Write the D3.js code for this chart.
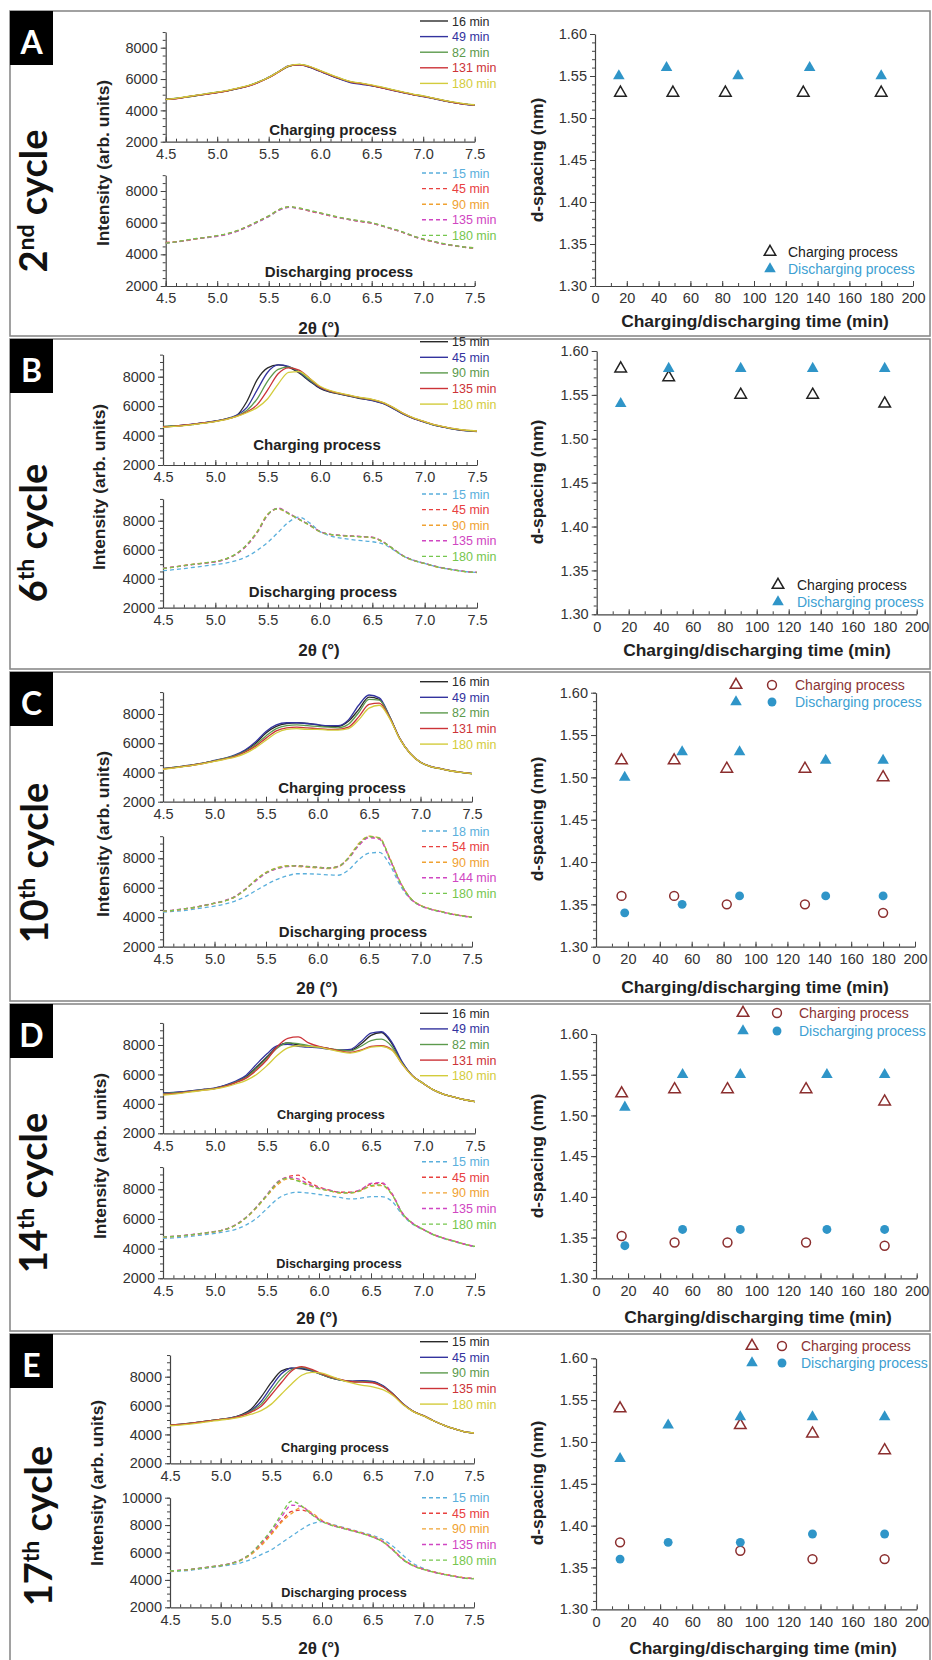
<!DOCTYPE html>
<html><head><meta charset="utf-8">
<script src="https://cdn.jsdelivr.net/npm/d3@7"></script>
<style>
body{margin:0;background:#fff}
svg{display:block}
text{font-family:"Liberation Sans",Arial,sans-serif}
</style>
</head><body>
<svg id="c" width="932" height="1660"></svg>
<script>
// ---------------- DATA ----------------
const twoTheta = [4.5,4.6,4.7,4.8,4.9,5.0,5.1,5.2,5.3,5.4,5.5,5.6,5.7,5.8,5.9,6.0,6.1,6.2,6.3,6.4,6.5,6.6,6.7,6.8,6.9,7.0,7.1,7.2,7.3,7.4,7.5];

const panelLetters = ["A","B","C","D","E"];
const cycleNums = ["2","6","10","14","17"];
const cycleSups = ["nd","th","th","th","th"];

const chgTimes = [[16,49,82,131,180],[15,45,90,135,180],[16,49,82,131,180],[16,49,82,131,180],[15,45,90,135,180]];
const dchTimes = [[15,45,90,135,180],[15,45,90,135,180],[18,54,90,144,180],[15,45,90,135,180],[15,45,90,135,180]];

// XRD intensities (arb. units) at twoTheta, charging (solid) and discharging (dashed)
const A_charge = [
 [4700,4760,4850,4950,5040,5140,5250,5400,5560,5800,6100,6480,6830,6920,6760,6500,6240,6000,5800,5700,5580,5450,5300,5150,5010,4900,4760,4620,4500,4400,4340],
 [4680,4750,4860,4960,5050,5150,5260,5390,5550,5790,6120,6500,6850,6900,6740,6480,6220,5980,5760,5660,5560,5430,5280,5140,5000,4880,4750,4610,4490,4390,4330],
 [4720,4770,4840,4940,5060,5160,5240,5410,5570,5820,6090,6470,6820,6930,6780,6520,6260,6020,5820,5720,5600,5460,5310,5160,5020,4910,4770,4630,4510,4410,4350],
 [4700,4740,4850,4960,5040,5130,5250,5400,5540,5780,6080,6460,6840,6910,6770,6510,6250,6010,5810,5710,5590,5440,5290,5150,5010,4900,4760,4620,4500,4400,4340],
 [4690,4760,4870,4970,5070,5170,5270,5420,5580,5810,6110,6490,6860,6940,6800,6540,6280,6040,5840,5740,5620,5480,5330,5180,5040,4920,4780,4640,4520,4420,4360]];
const A_discharge = [
 [4700,4780,4880,4980,5060,5150,5280,5480,5750,6050,6380,6780,6980,6900,6750,6600,6450,6300,6180,6080,5980,5800,5600,5400,5150,4950,4800,4650,4550,4450,4400],
 [4750,4800,4870,4990,5080,5170,5300,5500,5780,6100,6420,6820,7000,6880,6720,6580,6430,6290,6170,6060,5960,5790,5590,5390,5140,4940,4790,4640,4540,4440,4390],
 [4720,4790,4890,4970,5070,5160,5290,5490,5760,6070,6400,6800,6990,6910,6760,6610,6460,6310,6190,6090,5990,5810,5610,5410,5160,4960,4810,4660,4560,4460,4410],
 [4730,4770,4880,4990,5050,5140,5270,5470,5740,6060,6390,6790,6970,6890,6740,6590,6440,6290,6170,6070,5970,5790,5600,5400,5150,4950,4800,4650,4550,4450,4400],
 [4710,4790,4900,5000,5080,5180,5310,5510,5790,6110,6430,6830,7010,6920,6770,6620,6470,6320,6200,6100,6000,5820,5620,5420,5170,4970,4820,4670,4560,4460,4410]];

const B_charge = [
 [4600,4640,4700,4780,4870,4980,5120,5350,6300,7800,8600,8800,8650,8250,7700,7200,6950,6800,6650,6500,6400,6200,5850,5450,5150,4920,4700,4550,4420,4330,4280],
 [4580,4650,4710,4790,4880,4990,5140,5380,5900,7100,8300,8800,8700,8300,7750,7250,6980,6820,6670,6520,6380,6180,5830,5440,5140,4910,4690,4540,4410,4320,4270],
 [4620,4660,4690,4770,4860,4970,5110,5320,5700,6500,7700,8500,8650,8350,7800,7300,7000,6830,6680,6540,6420,6220,5880,5470,5160,4930,4710,4560,4430,4340,4290],
 [4600,4630,4700,4780,4870,4960,5100,5300,5600,6100,7100,8200,8600,8450,7900,7300,7020,6850,6700,6560,6440,6240,5900,5490,5170,4940,4720,4570,4440,4350,4300],
 [4550,4620,4680,4760,4850,4950,5080,5280,5550,5900,6500,7500,8300,8350,7900,7350,7050,6870,6720,6580,6460,6260,5920,5500,5180,4950,4730,4580,4450,4360,4310]];
const B_discharge = [
 [4550,4620,4700,4790,4880,4980,5080,5250,5520,5950,6500,7200,7900,8250,7850,7250,6950,6800,6700,6620,6550,6400,6000,5550,5250,5050,4850,4700,4580,4480,4430],
 [4720,4800,4900,5000,5080,5170,5350,5700,6300,7200,8400,8850,8500,8100,7700,7250,7050,6980,6940,6900,6850,6550,6050,5550,5250,5050,4850,4700,4580,4480,4430],
 [4700,4790,4910,5010,5090,5180,5360,5720,6330,7250,8450,8800,8480,8080,7680,7230,7040,6970,6930,6890,6830,6530,6040,5540,5240,5040,4840,4690,4570,4470,4420],
 [4740,4810,4890,4990,5070,5160,5340,5690,6280,7180,8380,8870,8520,8110,7710,7260,7060,6990,6950,6910,6860,6560,6060,5560,5260,5060,4860,4710,4590,4490,4440],
 [4710,4800,4900,5000,5090,5190,5370,5730,6350,7230,8420,8830,8490,8090,7690,7240,7050,6970,6930,6890,6840,6540,6050,5550,5250,5050,4850,4700,4580,4480,4430]];

const C_charge = [
 [4250,4330,4420,4520,4640,4800,4950,5150,5500,6000,6700,7150,7350,7400,7350,7250,7150,7150,7500,8300,9150,9000,7800,6300,5300,4700,4400,4250,4100,4000,3920],
 [4280,4350,4440,4540,4660,4820,4980,5200,5550,6100,6800,7250,7400,7400,7350,7280,7200,7200,7600,8600,9300,9100,7850,6320,5310,4710,4410,4260,4110,4010,3930],
 [4260,4340,4430,4530,4650,4800,4960,5150,5450,5900,6500,7000,7200,7250,7200,7150,7100,7050,7300,8100,9000,8950,7800,6290,5290,4690,4390,4240,4090,3990,3910],
 [4240,4320,4410,4510,4630,4780,4930,5100,5400,5800,6350,6850,7050,7100,7050,7000,6950,6950,7100,7800,8650,8750,7750,6300,5300,4700,4400,4250,4100,4000,3920],
 [4220,4300,4400,4500,4620,4760,4900,5050,5300,5700,6200,6700,6950,7000,6950,6950,6900,6900,7000,7600,8400,8600,7700,6280,5300,4700,4400,4250,4100,4000,3920]];
const C_discharge = [
 [4350,4400,4450,4550,4650,4750,4900,5100,5400,5800,6200,6550,6800,6950,6950,6920,6880,6850,7200,7900,8350,8400,7600,6200,5250,4780,4540,4370,4210,4090,3990],
 [4420,4470,4560,4660,4800,4950,5120,5400,5900,6500,7000,7300,7450,7500,7450,7400,7350,7450,8000,8900,9450,9350,8000,6400,5300,4800,4550,4380,4220,4100,4000],
 [4400,4460,4550,4650,4790,4940,5100,5380,5880,6550,7050,7350,7500,7450,7400,7350,7300,7400,8050,9000,9500,9400,8050,6450,5320,4810,4560,4390,4230,4110,4010],
 [4430,4480,4570,4670,4810,4960,5130,5420,5920,6450,6980,7280,7430,7480,7420,7380,7330,7430,7980,8850,9400,9300,7950,6380,5290,4790,4540,4370,4210,4090,3990],
 [4410,4470,4560,4660,4800,4950,5110,5390,5890,6520,7020,7320,7470,7490,7440,7390,7340,7440,8020,8950,9480,9380,8020,6420,5310,4800,4550,4380,4220,4100,4000]];

const D_charge = [
 [4720,4760,4820,4900,4980,5060,5250,5500,5850,6500,7200,7900,8150,8000,7900,7850,7750,7650,7650,8050,8650,8850,8100,6800,5900,5400,4950,4650,4450,4280,4150],
 [4750,4780,4830,4910,5000,5080,5280,5550,5950,6700,7400,7950,8050,7900,7850,7800,7700,7650,7700,8200,8800,8900,8200,6850,5900,5400,4950,4650,4450,4280,4150],
 [4700,4740,4800,4880,4970,5050,5230,5480,5800,6400,7100,7800,8150,8100,7950,7850,7750,7650,7600,7900,8300,8400,7900,6750,5900,5400,4950,4650,4450,4280,4150],
 [4650,4700,4780,4860,4950,5040,5200,5450,5750,6300,7000,7900,8450,8550,8150,7900,7750,7600,7500,7650,7900,7950,7700,6700,5900,5400,4950,4650,4450,4280,4150],
 [4600,4660,4750,4840,4930,5020,5150,5350,5600,6000,6600,7300,7800,7950,7900,7850,7700,7550,7450,7600,7850,7900,7650,6700,5880,5400,4950,4650,4450,4280,4150]];
const D_discharge = [
 [4700,4720,4780,4860,4940,5030,5140,5300,5600,6050,6700,7350,7700,7800,7750,7650,7550,7450,7350,7400,7500,7500,7200,6300,5650,5280,4930,4680,4480,4280,4130],
 [4800,4820,4880,4960,5050,5150,5300,5600,6100,6800,7600,8400,8850,8950,8500,8150,7950,7800,7800,7950,8350,8400,7700,6400,5700,5300,4950,4700,4500,4300,4150],
 [4780,4810,4870,4950,5040,5140,5290,5580,6080,6750,7550,8300,8700,8600,8300,8050,7900,7750,7750,7900,8200,8250,7650,6380,5700,5300,4950,4700,4500,4300,4150],
 [4810,4830,4890,4970,5060,5160,5310,5620,6120,6820,7650,8500,8800,8700,8350,8100,7950,7800,7780,7980,8400,8450,7750,6420,5720,5310,4960,4710,4510,4310,4160],
 [4790,4820,4880,4960,5050,5150,5300,5600,6100,6800,7600,8450,8750,8550,8250,8050,7900,7780,7760,7920,8250,8300,7680,6400,5700,5300,4950,4700,4500,4300,4150]];

const E_charge = [
 [4650,4700,4780,4870,4960,5050,5150,5350,5750,6600,7600,8400,8600,8550,8400,8150,7900,7750,7680,7700,7650,7350,6800,6100,5600,5300,4950,4650,4400,4200,4100],
 [4640,4690,4770,4860,4950,5040,5140,5320,5650,6300,7300,8200,8600,8600,8400,8150,7900,7750,7700,7720,7680,7380,6820,6120,5610,5300,4950,4650,4400,4200,4100],
 [4660,4700,4780,4870,4960,5050,5130,5300,5600,6100,7000,7900,8500,8650,8450,8150,7900,7750,7650,7650,7600,7320,6800,6100,5600,5300,4950,4650,4400,4200,4100],
 [4650,4690,4770,4860,4950,5040,5120,5280,5550,5950,6750,7600,8400,8700,8500,8200,7950,7780,7650,7620,7580,7300,6780,6100,5600,5300,4950,4650,4400,4200,4100],
 [4600,4650,4720,4800,4900,5000,5080,5200,5400,5650,6100,6800,7500,8100,8300,8250,8000,7750,7550,7400,7300,7100,6700,6050,5580,5280,4950,4650,4400,4200,4100]];
const E_discharge = [
 [4600,4650,4700,4800,4900,4980,5100,5250,5500,5850,6200,6700,7200,7700,8100,8250,8050,7850,7650,7450,7250,6950,6450,5800,5200,4850,4600,4420,4280,4150,4100],
 [4650,4700,4760,4850,4950,5050,5200,5450,5900,6600,7400,8300,9000,9100,8800,8300,8000,7800,7600,7400,7150,6800,6200,5500,5050,4780,4580,4420,4280,4150,4100],
 [4640,4690,4750,4840,4940,5040,5190,5430,5850,6500,7300,8200,8850,9300,8900,8350,8020,7820,7620,7420,7170,6820,6220,5520,5060,4790,4590,4430,4290,4160,4110],
 [4660,4710,4770,4860,4960,5060,5210,5470,5950,6700,7550,8600,9450,9350,8800,8280,7980,7780,7580,7380,7130,6780,6180,5480,5040,4770,4570,4410,4270,4140,4090],
 [4650,4700,4760,4850,4950,5050,5200,5460,5950,6750,7650,8800,9750,9400,8750,8250,7970,7770,7570,7370,7120,6770,6170,5470,5030,4760,4560,4400,4260,4130,4080]];

// d-spacing (nm) vs time (min)
const A_chgTri = [[16,1.53],[49,1.53],[82,1.53],[131,1.53],[180,1.53]];
const A_dchTri = [[15,1.55],[45,1.56],[90,1.55],[135,1.56],[180,1.55]];
const B_chgTri = [[15,1.58],[45,1.57],[90,1.55],[135,1.55],[180,1.54]];
const B_dchTri = [[15,1.54],[45,1.58],[90,1.58],[135,1.58],[180,1.58]];
const C_chgTri = [[16,1.52],[49,1.52],[82,1.51],[131,1.51],[180,1.50]];
const C_chgCir = [[16,1.36],[49,1.36],[82,1.35],[131,1.35],[180,1.34]];
const C_dchTri = [[18,1.50],[54,1.53],[90,1.53],[144,1.52],[180,1.52]];
const C_dchCir = [[18,1.34],[54,1.35],[90,1.36],[144,1.36],[180,1.36]];
const D_chgTri = [[16,1.527],[49,1.532],[82,1.532],[131,1.532],[180,1.517]];
const D_chgCir = [[16,1.352],[49,1.344],[82,1.344],[131,1.344],[180,1.340]];
const D_dchTri = [[18,1.51],[54,1.55],[90,1.55],[144,1.55],[180,1.55]];
const D_dchCir = [[18,1.34],[54,1.36],[90,1.36],[144,1.36],[180,1.36]];
const E_chgTri = [[15,1.54],[90,1.52],[135,1.51],[180,1.49]];
const E_chgCir = [[15,1.38],[90,1.37],[135,1.36],[180,1.36]];
const E_dchTri = [[15,1.48],[45,1.52],[90,1.53],[135,1.53],[180,1.53]];
const E_dchCir = [[15,1.36],[45,1.38],[90,1.38],[135,1.39],[180,1.39]];

const xrdTicks = [4.5,5.0,5.5,6.0,6.5,7.0,7.5];
const dTicks = [1.30,1.35,1.40,1.45,1.50,1.55,1.60];
const tTicks = [0,20,40,60,80,100,120,140,160,180,200];

const chgColors = ["#2a2a2a","#33339e","#5c9a4c","#cc3338","#d3cc3c"];
const dchColors = ["#5aafdc","#e8413f","#f0a232","#d046c2","#76c64e"];

// ---------------- LAYOUT (positions only) ----------------
const layout = [
 {frame:[11,336], cyc:[47,201], lx:[165.7,474.7],
  up:[141.7,47.7,9000], lo:[286,191,9000], loTicks:[2000,4000,6000,8000],
  legUp:21, legLo:173, chgLab:[333,130,15], dchLab:[339,272,15], tth:[319,328], ilab:[103,163],
  rx:[595,913], ry:[286,34], rtitle:[755,321], rylab:[537,160],
  leg:{tri:770, cir:null, text:788, rows:[252,269], chgCol:"#222"}},
 {frame:[339,669], cyc:[47,533], lx:[163,477],
  up:[465,376.7,9500], lo:[607.7,520.7,9500], loTicks:[2000,4000,6000,8000],
  legUp:341.7, legLo:494, chgLab:[317,445,15], dchLab:[323,592,15], tth:[319,650], ilab:[99,487],
  rx:[596.7,916.7], ry:[614.3,351], rtitle:[757,650], rylab:[537,482],
  leg:{tri:778, cir:null, text:797, rows:[585,602], chgCol:"#222"}},
 {frame:[672,1001], cyc:[48,863], lx:[163,472],
  up:[801.7,714,9500], lo:[946.7,858.3,9500], loTicks:[2000,4000,6000,8000],
  legUp:681.7, legLo:831, chgLab:[342,788,15], dchLab:[353,932,15], tth:[317,988], ilab:[103,834],
  rx:[596,915], ry:[946.7,692.7], rtitle:[755,987], rylab:[537,819],
  leg:{tri:736, cir:772, text:795, rows:[685,702], chgCol:"#8b3434"}},
 {frame:[1004,1331], cyc:[47,1193], lx:[163,475],
  up:[1133.3,1045,9500], lo:[1278.3,1189.3,9500], loTicks:[2000,4000,6000,8000],
  legUp:1013.3, legLo:1161.7, chgLab:[331,1114,12.7], dchLab:[339,1263,12.7], tth:[317,1318], ilab:[100,1156],
  rx:[596,916.7], ry:[1278.3,1034], rtitle:[758,1317], rylab:[537,1156],
  leg:{tri:743, cir:777, text:799, rows:[1013,1031], chgCol:"#8b3434"}},
 {frame:[1334,1662], cyc:[52,1526], lx:[170,474],
  up:[1463.3,1376.7,9500], lo:[1607.3,1525.1,10000], loTicks:[2000,4000,6000,8000,10000],
  legUp:1341.7, legLo:1497.7, chgLab:[335,1447,12.7], dchLab:[344,1592,12.7], tth:[319,1648], ilab:[97,1483],
  rx:[596,916.7], ry:[1609.3,1358.3], rtitle:[763,1648], rylab:[537,1483],
  leg:{tri:752, cir:782, text:801, rows:[1346,1363], chgCol:"#8b3434"}}
];

const charges = [A_charge,B_charge,C_charge,D_charge,E_charge];
const discharges = [A_discharge,B_discharge,C_discharge,D_discharge,E_discharge];
const spacing = [
 {chgTri:A_chgTri, dchTri:A_dchTri},
 {chgTri:B_chgTri, dchTri:B_dchTri},
 {chgTri:C_chgTri, chgCir:C_chgCir, dchTri:C_dchTri, dchCir:C_dchCir},
 {chgTri:D_chgTri, chgCir:D_chgCir, dchTri:D_dchTri, dchCir:D_dchCir},
 {chgTri:E_chgTri, chgCir:E_chgCir, dchTri:E_dchTri, dchCir:E_dchCir}
];

// ---------------- DRAW ----------------
const svg = d3.select("#c");
const AX = "#444";
const FILL_BLUE = "#2f95c8";
const DCH_TXT = "#3d9fd2";
const TICK_FS = 14.5;

function styleAxis(g, fs){
  g.selectAll("path.domain").attr("stroke",AX).attr("stroke-width",1.2);
  g.selectAll(".tick line").attr("stroke",AX).attr("stroke-width",1);
  g.selectAll(".tick text").attr("fill","#333").style("font-size",fs+"px")
    .style("font-family",'"Liberation Sans",Arial,sans-serif');
}

function minorRange(a,b,s){ const out=[]; for(let v=a; v<=b+1e-9; v+=s) out.push(+v.toFixed(4)); return out; }

function xrdPlot(L, yspec, yTicks, series, colors, dashed, labelPos, legTop, times){
  const [y2000,y8000,top] = yspec;
  const k = (y2000-y8000)/6000;
  const x = d3.scaleLinear().domain([4.5,7.5]).range(L.lx);
  const y = d3.scaleLinear().domain([2000,top]).range([y2000, y2000-(top-2000)*k]);
  const g = svg.append("g");
  g.append("g").attr("transform",`translate(0,${y2000})`)
    .call(d3.axisBottom(x).tickValues(minorRange(4.5,7.5,0.1)).tickSize(-3).tickFormat(""))
    .call(a=>{a.select(".domain").remove(); a.selectAll("line").attr("stroke",AX);});
  g.append("g").attr("transform",`translate(${L.lx[0]},0)`)
    .call(d3.axisLeft(y).tickValues(minorRange(2000,top,500)).tickSize(3).tickFormat(""))
    .call(a=>{a.select(".domain").remove(); a.selectAll("line").attr("stroke",AX);});
  const xa = g.append("g").attr("transform",`translate(0,${y2000})`)
    .call(d3.axisBottom(x).tickValues(xrdTicks).tickFormat(d3.format(".1f")).tickSizeInner(-5).tickSizeOuter(0).tickPadding(7));
  styleAxis(xa,TICK_FS);
  const ya = g.append("g").attr("transform",`translate(${L.lx[0]},0)`)
    .call(d3.axisLeft(y).tickValues(yTicks).tickFormat(d3.format("d")).tickSizeInner(5).tickSizeOuter(0).tickPadding(3));
  styleAxis(ya,TICK_FS);
  const line = d3.line().x((d,i)=>x(twoTheta[i])).y(d=>y(d)).curve(d3.curveMonotoneX);
  series.forEach((s,i)=>{
    g.append("path").attr("d",line(s)).attr("fill","none").attr("stroke",colors[i])
      .attr("stroke-width",1.3).attr("stroke-dasharray",dashed?"4,3":null);
  });
  g.append("text").attr("x",labelPos[0]).attr("y",labelPos[1]+labelPos[2]*0.36)
    .attr("text-anchor","middle").style("font-size",labelPos[2]+"px").style("font-weight","bold")
    .attr("fill","#222").text(dashed?"Discharging process":"Charging process");
  times.forEach((t,i)=>{
    const yy = legTop + i*15.6;
    g.append("line").attr("x1",dashed?422:420).attr("x2",448).attr("y1",yy).attr("y2",yy)
      .attr("stroke",colors[i]).attr("stroke-width",1.4).attr("stroke-dasharray",dashed?"4,3":null);
    g.append("text").attr("x",452).attr("y",yy+4.5).style("font-size","12.5px")
      .attr("fill",colors[i]).text(t+" min");
  });
}

function symbolPath(type, size){ return d3.symbol().type(type).size(size)(); }

function spacingPlot(L, sp, openCol){
  const x = d3.scaleLinear().domain([0,200]).range(L.rx);
  const y = d3.scaleLinear().domain([1.30,1.60]).range(L.ry);
  const g = svg.append("g");
  g.append("g").attr("transform",`translate(0,${L.ry[0]})`)
    .call(d3.axisBottom(x).tickValues(minorRange(0,200,10)).tickSize(-3).tickFormat(""))
    .call(a=>{a.select(".domain").remove(); a.selectAll("line").attr("stroke",AX);});
  g.append("g").attr("transform",`translate(${L.rx[0]},0)`)
    .call(d3.axisLeft(y).tickValues(minorRange(1.30,1.60,0.01)).tickSize(3).tickFormat(""))
    .call(a=>{a.select(".domain").remove(); a.selectAll("line").attr("stroke",AX);});
  const xa = g.append("g").attr("transform",`translate(0,${L.ry[0]})`)
    .call(d3.axisBottom(x).tickValues(tTicks).tickFormat(d3.format("d")).tickSizeInner(-5).tickSizeOuter(0).tickPadding(7));
  styleAxis(xa,TICK_FS);
  const ya = g.append("g").attr("transform",`translate(${L.rx[0]},0)`)
    .call(d3.axisLeft(y).tickValues(dTicks).tickFormat(d3.format(".2f")).tickSizeInner(5).tickSizeOuter(0).tickPadding(3));
  styleAxis(ya,TICK_FS);
  g.append("text").attr("x",L.rtitle[0]).attr("y",L.rtitle[1]+6).attr("text-anchor","middle")
    .style("font-size","17.4px").style("font-weight","bold").attr("fill","#222").text("Charging/discharging time (min)");
  g.append("text").attr("transform",`translate(${L.rylab[0]+6},${L.rylab[1]}) rotate(-90)`).attr("text-anchor","middle")
    .style("font-size","17.4px").style("font-weight","bold").attr("fill","#222").text("d-spacing (nm)");
  const tri = symbolPath(d3.symbolTriangle, 58), cir = symbolPath(d3.symbolCircle, 62);
  const draw = (pts, path, filled) => g.selectAll(null).data(pts||[]).join("path")
     .attr("d",path).attr("transform",d=>`translate(${x(d[0])},${y(d[1])})`)
     .attr("fill",filled?FILL_BLUE:"none").attr("stroke",filled?"none":openCol).attr("stroke-width",1.5);
  draw(sp.chgTri, tri, false); draw(sp.chgCir, cir, false);
  draw(sp.dchTri, tri, true); draw(sp.dchCir, cir, true);
  const lg = L.leg;
  [0,1].forEach(r=>{
    const yy = lg.rows[r];
    g.append("path").attr("d",tri).attr("transform",`translate(${lg.tri},${yy})`)
      .attr("fill",r?FILL_BLUE:"none").attr("stroke",r?"none":openCol).attr("stroke-width",1.5);
    if(lg.cir!==null) g.append("path").attr("d",cir).attr("transform",`translate(${lg.cir},${yy})`)
      .attr("fill",r?FILL_BLUE:"none").attr("stroke",r?"none":openCol).attr("stroke-width",1.5);
    g.append("text").attr("x",lg.text).attr("y",yy+5).style("font-size","14px")
      .attr("fill",r?DCH_TXT:lg.chgCol).text(r?"Discharging process":"Charging process");
  });
}

layout.forEach((L,p)=>{
  svg.append("rect").attr("x",10).attr("y",L.frame[0]).attr("width",920).attr("height",L.frame[1]-L.frame[0])
    .attr("fill","none").attr("stroke","#8a8a8a").attr("stroke-width",1.6);
  svg.append("rect").attr("x",10).attr("y",L.frame[0]).attr("width",43).attr("height",54).attr("fill","#000");
  svg.append("text").attr("x",31.5).attr("y",L.frame[0]+43).attr("text-anchor","middle")
    .style("font-family","Lato, 'Open Sans', sans-serif").style("font-weight","bold").style("font-size","32px")
    .attr("fill","#fff").text(panelLetters[p]);
  const ct = svg.append("text").attr("transform",`translate(${L.cyc[0]},${L.cyc[1]}) rotate(-90)`)
    .attr("text-anchor","middle").style("font-family","Lato, 'Open Sans', sans-serif")
    .style("font-weight","bold").style("font-size","38px").attr("fill","#111");
  ct.append("tspan").text(cycleNums[p]);
  ct.append("tspan").attr("dy",-13).style("font-size","23px").text(cycleSups[p]);
  ct.append("tspan").attr("dy",13).text(" cycle");
  xrdPlot(L, L.up, [2000,4000,6000,8000], charges[p], chgColors, false, L.chgLab, L.legUp, chgTimes[p]);
  xrdPlot(L, L.lo, L.loTicks, discharges[p], dchColors, true, L.dchLab, L.legLo, dchTimes[p]);
  svg.append("text").attr("x",L.tth[0]).attr("y",L.tth[1]+6).attr("text-anchor","middle")
    .style("font-size","17px").style("font-weight","bold").attr("fill","#222").text("2θ (°)");
  svg.append("text").attr("transform",`translate(${L.ilab[0]+6},${L.ilab[1]}) rotate(-90)`).attr("text-anchor","middle")
    .style("font-size","17.4px").style("font-weight","bold").attr("fill","#222").text("Intensity (arb. units)");
  spacingPlot(L, spacing[p], p<2?"#222":"#8b2e2e");
});
</script>
</body></html>
